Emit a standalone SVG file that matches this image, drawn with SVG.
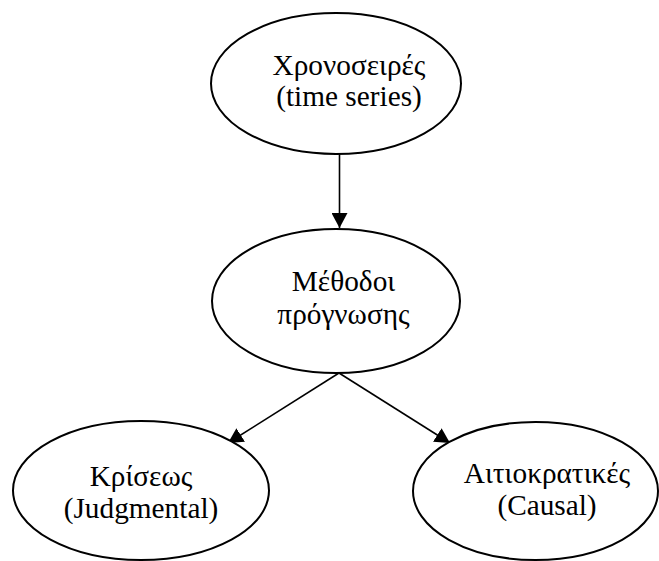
<svg xmlns="http://www.w3.org/2000/svg" width="659" height="561" viewBox="0 0 659 561">
<style>
.node ellipse{fill:#fff;stroke:#000;stroke-width:2}
.node text{font-family:"Liberation Serif","Times New Roman",serif;font-size:29.3px;fill:#000;text-anchor:middle}
.edge{stroke:#000;stroke-width:1.6;fill:none}
</style>
<defs>
<marker id="arr" markerUnits="userSpaceOnUse" markerWidth="16" markerHeight="16" refX="15" refY="8" orient="auto">
<path d="M0,0 L15,8 L0,16 Z" fill="#000"/>
</marker>
</defs>
<rect width="659" height="561" fill="#fff"/>
<g id="connectors">
<line class="edge" x1="339.5" y1="154" x2="339.5" y2="228" marker-end="url(#arr)"/>
<line class="edge" x1="339" y1="373" x2="228" y2="443" marker-end="url(#arr)"/>
<line class="edge" x1="339" y1="373" x2="450" y2="443" marker-end="url(#arr)"/>
</g>
<g id="node-timeseries" class="node">
<ellipse cx="336" cy="83.5" rx="125" ry="70.5"/>
<text x="349" y="75">Χρονοσειρές</text>
<text x="349" y="106">(time series)</text>
</g>
<g id="node-methods" class="node">
<ellipse cx="336" cy="301" rx="124" ry="72"/>
<text x="343.5" y="291">Μέθοδοι</text>
<text x="343.5" y="324">πρόγνωσης</text>
</g>
<g id="node-judgmental" class="node">
<ellipse cx="141" cy="490.5" rx="128" ry="69.5"/>
<text x="141" y="486">Κρίσεως</text>
<text x="141" y="518">(Judgmental)</text>
</g>
<g id="node-causal" class="node">
<ellipse cx="535.5" cy="491" rx="122.5" ry="69"/>
<text x="547" y="483">Αιτιοκρατικές</text>
<text x="547" y="515">(Causal)</text>
</g>
</svg>
